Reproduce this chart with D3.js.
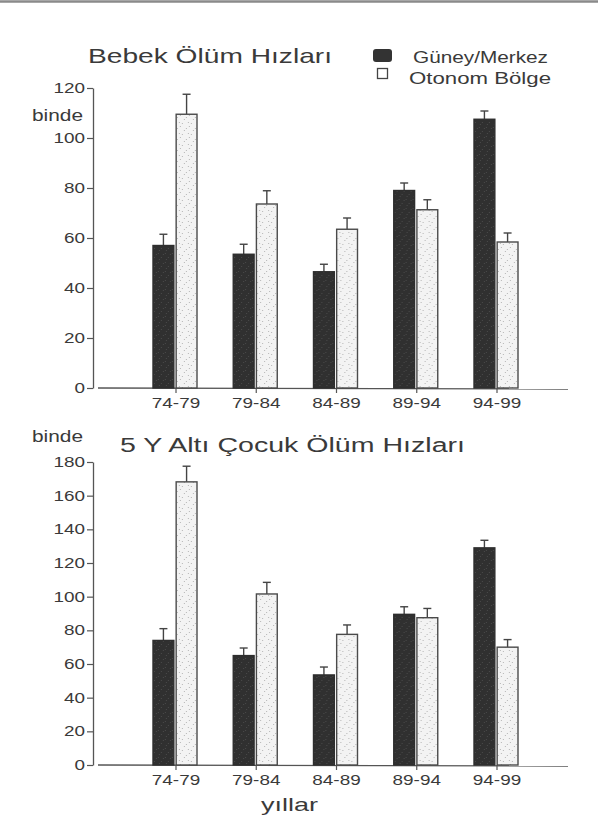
<!DOCTYPE html>
<html>
<head>
<meta charset="utf-8">
<script src="https://cdn.jsdelivr.net/npm/d3@7"></script>
<style>
  html, body { margin: 0; padding: 0; background: #fff; }
  svg { display: block; }
  text { font-family: "Liberation Sans", Arial, sans-serif; fill: #3a3a3a; }
</style>
</head>
<body>
<svg id="chart" width="598" height="818"></svg>
<script>
// ---------- data ----------
const categories = ["74-79", "79-84", "84-89", "89-94", "94-99"];
const seriesNames = ["Güney/Merkez", "Otonom Bölge"];

// Bebek Ölüm Hızları (binde)
const infantGuney = [57, 53.5, 46.5, 79, 107.5];
const infantGuneyErr = [61.5, 57.5, 49.5, 82, 110.8];
const infantOtonom = [109.5, 73.6, 63.5, 71.3, 58.4];
const infantOtonomErr = [117.5, 78.9, 68, 75.3, 62];
const infantTicks = [0, 20, 40, 60, 80, 100, 120];

// 5 Y Altı Çocuk Ölüm Hızları (binde)
const childGuney = [74, 65, 53.5, 89.5, 129];
const childGuneyErr = [81, 69.5, 58.2, 94, 133.5];
const childOtonom = [168.2, 101.6, 77.6, 87.5, 70];
const childOtonomErr = [177.5, 108.5, 83.2, 93, 74.5];
const childTicks = [0, 20, 40, 60, 80, 100, 120, 140, 160, 180];

// ---------- drawing ----------
const svg = d3.select("#chart");
const SX = 1.35; // horizontal stretch of the scanned text

function stretch(sel, k) {
  sel.each(function () {
    const w = this.getComputedTextLength();
    this.setAttribute("textLength", w * k);
    this.setAttribute("lengthAdjust", "spacingAndGlyphs");
  });
}
function fit(sel, w) {
  sel.attr("textLength", w).attr("lengthAdjust", "spacingAndGlyphs");
}

// stipple patterns
const defs = svg.append("defs");
const pLight = defs.append("pattern").attr("id", "stipLight")
  .attr("patternUnits", "userSpaceOnUse").attr("width", 9).attr("height", 11);
pLight.append("rect").attr("width", 9).attr("height", 11).attr("fill", "#f3f3f3");
[[1,2],[5,7],[7,1],[3,9],[8,5]].forEach(([x,y]) =>
  pLight.append("rect").attr("x", x).attr("y", y).attr("width", 1).attr("height", 1).attr("fill", "#b5b5b5"));
const pDark = defs.append("pattern").attr("id", "stipDark")
  .attr("patternUnits", "userSpaceOnUse").attr("width", 7).attr("height", 9);
pDark.append("rect").attr("width", 7).attr("height", 9).attr("fill", "#303030");
[[1,1],[4,5],[6,2],[2,7]].forEach(([x,y]) =>
  pDark.append("rect").attr("x", x).attr("y", y).attr("width", 1).attr("height", 1).attr("fill", "#4a4a4a"));

// scanned top edge
svg.append("line").attr("x1", 0).attr("x2", 598).attr("y1", 1.5).attr("y2", 1.5)
  .attr("stroke", "#8a8a8a").attr("stroke-width", 2.5);

const x0 = d3.scaleBand().domain(categories).range([135.875, 537.125]).padding(0);
const x1 = d3.scaleBand().domain(seriesNames)
  .range([x0.bandwidth() / 2 - 23, x0.bandwidth() / 2 + 21]).paddingInner(0.1);

function drawPanel(cfg) {
  const y = d3.scaleLinear().domain([0, cfg.max]).range([cfg.y0, cfg.y1]);
  const g = svg.append("g");

  // y axis
  const ya = g.append("g").attr("transform", "translate(93,0)")
    .call(d3.axisLeft(y).tickValues(cfg.ticks).tickSize(6).tickSizeOuter(0).tickPadding(2));
  ya.select(".domain").attr("stroke", "#555").attr("stroke-width", 1.3);
  ya.selectAll(".tick line").attr("stroke", "#555").attr("stroke-width", 1.2);
  ya.selectAll(".tick text").attr("font-size", 14).attr("fill", "#4a4a4a")
    .attr("font-family", "Liberation Sans, Arial, sans-serif").call(stretch, SX);

  // x axis
  g.append("line").attr("x1", 98).attr("x2", 568)
    .attr("y1", y(0)).attr("y2", y(0) + 1).attr("stroke", "#555").attr("stroke-width", 1.3);
  const xa = g.append("g").attr("transform", `translate(0,${y(0)})`)
    .call(d3.axisBottom(x0).tickSize(5).tickPadding(5));
  xa.select(".domain").remove();
  xa.selectAll(".tick line").attr("stroke", "#555").attr("stroke-width", 1.2);
  xa.selectAll(".tick text").attr("font-size", 14).attr("fill", "#4a4a4a")
    .attr("font-family", "Liberation Sans, Arial, sans-serif").call(stretch, SX);

  const rows = categories.map((c, i) => ({
    cat: c,
    vals: [
      { s: seriesNames[0], v: cfg.guney[i], e: cfg.guneyErr[i] },
      { s: seriesNames[1], v: cfg.otonom[i], e: cfg.otonomErr[i] }
    ]
  }));

  const grp = g.selectAll(".grp").data(rows).join("g")
    .attr("transform", d => `translate(${x0(d.cat)},0)`);

  // error bars
  grp.selectAll(".err").data(d => d.vals).join("g").each(function (d) {
    const cx = x1(d.s) + x1.bandwidth() / 2;
    const e = d3.select(this);
    e.append("line").attr("x1", cx).attr("x2", cx).attr("y1", y(d.v)).attr("y2", y(d.e))
      .attr("stroke", "#444").attr("stroke-width", 1.4);
    e.append("line").attr("x1", cx - 4).attr("x2", cx + 4).attr("y1", y(d.e)).attr("y2", y(d.e))
      .attr("stroke", "#444").attr("stroke-width", 1.4);
  });

  // bars
  grp.selectAll(".bar").data(d => d.vals).join("rect")
    .attr("x", d => x1(d.s))
    .attr("y", d => y(d.v))
    .attr("width", x1.bandwidth())
    .attr("height", d => y(0) - y(d.v))
    .attr("fill", (d, i) => i === 0 ? "url(#stipDark)" : "url(#stipLight)")
    .attr("stroke", (d, i) => i === 0 ? "#2e2e2e" : "#4a4a4a")
    .attr("stroke-width", 1.4);

  // binde label
  g.append("text").attr("x", 83).attr("y", cfg.bindeY).attr("text-anchor", "end")
    .attr("font-size", 16).attr("fill", "#3c3c3c").text("binde").call(fit, 51);

  // title
  g.append("text").attr("x", cfg.titleX).attr("y", cfg.titleY)
    .attr("font-size", cfg.titleSize).attr("fill", "#333").text(cfg.title).call(fit, cfg.titleW);
}

drawPanel({
  max: 120, y0: 388, y1: 88, ticks: infantTicks,
  guney: infantGuney, guneyErr: infantGuneyErr,
  otonom: infantOtonom, otonomErr: infantOtonomErr,
  bindeY: 121, title: "Bebek Ölüm Hızları", titleX: 88, titleY: 63, titleW: 244, titleSize: 21
});

drawPanel({
  max: 180, y0: 765, y1: 462, ticks: childTicks,
  guney: childGuney, guneyErr: childGuneyErr,
  otonom: childOtonom, otonomErr: childOtonomErr,
  bindeY: 442, title: "5 Y Altı Çocuk Ölüm Hızları", titleX: 120, titleY: 452, titleW: 345, titleSize: 20
});

// legend
const leg = svg.append("g");
leg.append("rect").attr("x", 373).attr("y", 49).attr("width", 19).attr("height", 13)
  .attr("rx", 3).attr("fill", "#333");
leg.append("rect").attr("x", 377.5).attr("y", 68.5).attr("width", 10).attr("height", 10)
  .attr("fill", "#fff").attr("stroke", "#444").attr("stroke-width", 1.3);
leg.append("text").attr("x", 413).attr("y", 63).attr("font-size", 17).text(seriesNames[0]).call(fit, 135);
leg.append("text").attr("x", 409).attr("y", 84).attr("font-size", 17).text(seriesNames[1]).call(fit, 142);

// x axis title
svg.append("text").attr("x", 261).attr("y", 811).attr("font-size", 19).attr("fill", "#333")
  .text("yıllar").call(fit, 57);
</script>
</body>
</html>
